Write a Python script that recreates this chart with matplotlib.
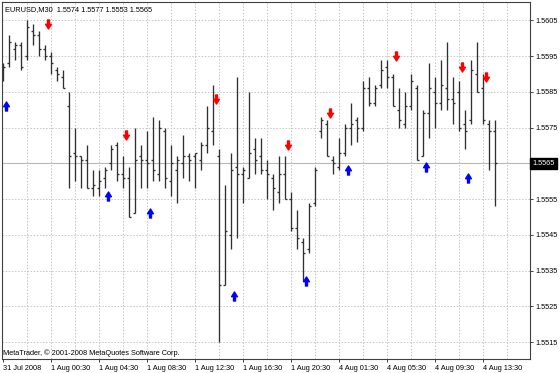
import matplotlib
matplotlib.use("Agg")
import matplotlib.pyplot as plt
from matplotlib.path import Path
from matplotlib.transforms import blended_transform_factory

# EURUSD M30 bars, 31 Jul 2008 20:30 .. 4 Aug 2008 14:30
opens = [1.5591, 1.5593, 1.5597, 1.5598, 1.5595, 1.5602, 1.5601, 1.5597, 1.5595, 1.5591,
         1.5589, 1.5581, 1.5568, 1.5567, 1.5566, 1.5558, 1.5558, 1.5561, 1.5565, 1.5570,
         1.5562, 1.5561, 1.5551, 1.5567, 1.5566, 1.5566, 1.5562, 1.5574, 1.5560, 1.5563,
         1.5565, 1.5567, 1.5567, 1.5566, 1.5570, 1.5574, 1.5567, 1.5531, 1.5545, 1.5564,
         1.5562, 1.5561, 1.5569, 1.5567, 1.5563, 1.5561, 1.5557, 1.5562, 1.5555, 1.5547,
         1.5543, 1.5541, 1.5554, 1.5574, 1.5576, 1.5566, 1.5564, 1.5568, 1.5575, 1.5577,
         1.5575, 1.5586, 1.5582, 1.5587, 1.5592, 1.5589, 1.5580, 1.5576, 1.5581, 1.5586,
         1.5567, 1.5579, 1.5585, 1.5582, 1.5586, 1.5583, 1.5585, 1.5576, 1.5577, 1.5590,
         1.5586, 1.5576, 1.5574]
highs = [1.5593, 1.5601, 1.5599, 1.5599, 1.5605, 1.5604, 1.5602, 1.5598, 1.5596, 1.5592,
         1.5591, 1.5585, 1.5575, 1.5567, 1.5570, 1.5563, 1.5563, 1.5564, 1.5570, 1.5571,
         1.5567, 1.5564, 1.5575, 1.5570, 1.5574, 1.5578, 1.5577, 1.5575, 1.5570, 1.5567,
         1.5573, 1.5568, 1.5568, 1.5571, 1.5581, 1.5587, 1.5569, 1.5559, 1.5568, 1.5589,
         1.5564, 1.5585, 1.5572, 1.5572, 1.5566, 1.5562, 1.5567, 1.5567, 1.5557, 1.5552,
         1.5544, 1.5554, 1.5564, 1.5578, 1.5577, 1.5567, 1.5572, 1.5576, 1.5582, 1.5578,
         1.5588, 1.5589, 1.5587, 1.5594, 1.5594, 1.5590, 1.5586, 1.5585, 1.5590, 1.5587,
         1.5580, 1.5593, 1.5589, 1.5594, 1.5599, 1.5589, 1.5588, 1.5580, 1.5594, 1.5599,
         1.5590, 1.5577, 1.5577]
lows = [1.5588, 1.5592, 1.5594, 1.5591, 1.5594, 1.5598, 1.5595, 1.5594, 1.5590, 1.5588,
        1.5586, 1.5558, 1.5560, 1.5558, 1.5558, 1.5556, 1.5556, 1.5558, 1.5563, 1.5560,
        1.5558, 1.5550, 1.5551, 1.5558, 1.5558, 1.5560, 1.5560, 1.5558, 1.5556, 1.5554,
        1.5561, 1.5560, 1.5558, 1.5563, 1.5568, 1.5570, 1.5515, 1.5531, 1.5541, 1.5544,
        1.5554, 1.5561, 1.5562, 1.5562, 1.5555, 1.5552, 1.5554, 1.5555, 1.5546, 1.5541,
        1.5532, 1.5540, 1.5553, 1.5572, 1.5567, 1.5562, 1.5563, 1.5567, 1.5570, 1.5571,
        1.5574, 1.5581, 1.5581, 1.5586, 1.5586, 1.5581, 1.5575, 1.5575, 1.5580, 1.5566,
        1.5567, 1.5572, 1.5575, 1.5580, 1.5580, 1.5576, 1.5574, 1.5569, 1.5576, 1.5585,
        1.5576, 1.5563, 1.5553]
closes = [1.5592, 1.5599, 1.5598, 1.5592, 1.5603, 1.5601, 1.5597, 1.5595, 1.5593, 1.5590,
          1.5586, 1.5567, 1.5567, 1.5566, 1.5558, 1.5559, 1.5560, 1.5563, 1.5569, 1.5562,
          1.5561, 1.5550, 1.5566, 1.5566, 1.5565, 1.5563, 1.5575, 1.5561, 1.5565, 1.5566,
          1.5567, 1.5566, 1.5568, 1.5570, 1.5575, 1.5583, 1.5531, 1.5546, 1.5563, 1.5562,
          1.5563, 1.5568, 1.5566, 1.5563, 1.5562, 1.5558, 1.5562, 1.5555, 1.5547, 1.5544,
          1.5540, 1.5553, 1.5563, 1.5577, 1.5567, 1.5565, 1.5568, 1.5575, 1.5576, 1.5575,
          1.5586, 1.5582, 1.5586, 1.5591, 1.5589, 1.5581, 1.5577, 1.5581, 1.5588, 1.5566,
          1.5579, 1.5586, 1.5582, 1.5587, 1.5583, 1.5582, 1.5575, 1.5574, 1.5591, 1.5585,
          1.5577, 1.5574, 1.5565]

# signal arrows (bar index, price)
sell_bars = [7, 20, 35, 47, 54, 65, 76, 80]
sell_prices = [1.5604, 1.5573, 1.5583, 1.5570, 1.5579, 1.5595, 1.5592, 1.5589]
buy_bars = [0, 17, 24, 38, 50, 57, 70, 77]
buy_prices = [1.5581, 1.5556, 1.5551, 1.5528, 1.5532, 1.5563, 1.5564, 1.5561]

price_ticks = [1.5515, 1.5525, 1.5535, 1.5545, 1.5555, 1.5565, 1.5575, 1.5585, 1.5595, 1.5605]
time_tick_bars = [0, 8, 16, 24, 32, 40, 48, 56, 64, 72, 80]
time_tick_labels = ["31 Jul 2008", "1 Aug 00:30", "1 Aug 04:30", "1 Aug 08:30",
                    "1 Aug 12:30", "1 Aug 16:30", "1 Aug 20:30", "4 Aug 01:30",
                    "4 Aug 05:30", "4 Aug 09:30", "4 Aug 13:30"]
header = "EURUSD,M30  1.5574 1.5577 1.5553 1.5565"
last_price = 1.5565

plt.rcParams['font.family'] = ['Liberation Sans', 'DejaVu Sans']
FS = 5.3

fig = plt.figure(figsize=(5.6, 3.73), dpi=100)
ax = fig.add_axes([2 / 560, 14 / 373, 528 / 560, 357 / 373])
ax.set_xlim(-0.12, 87.9)
ax.set_ylim(1.55103, 1.56101)

# grid
for p in price_ticks:
    ax.axhline(p, color='#c8c8c8', lw=0.7, dashes=(1.6, 1.6), zorder=0)
for g in range(4, 88, 4):
    ax.axvline(g, color='#c8c8c8', lw=0.7, dashes=(1.6, 1.6), zorder=0)
ax.axhline(last_price, color='#b8b8b8', lw=0.8, zorder=0.5)

# OHLC bars
xs = list(range(len(opens)))
bar_col = '#303030'
ax.vlines(xs, lows, highs, color=bar_col, lw=0.95, zorder=2)
ax.hlines(opens, [x - 0.35 for x in xs], xs, color=bar_col, lw=0.95, zorder=2)
ax.hlines(closes, xs, [x + 0.35 for x in xs], color=bar_col, lw=0.95, zorder=2)

# arrow markers
down_arrow = Path([(-0.22, 1), (0.22, 1), (0.22, 0.05), (0.65, 0.05), (0, -1),
                   (-0.65, 0.05), (-0.22, 0.05), (-0.22, 1)], closed=True)
up_arrow = Path([(x, -y) for x, y in down_arrow.vertices], closed=True)
ax.plot([b + 0.6 for b in sell_bars], sell_prices, ls='none', marker=down_arrow,
        ms=6.5, color='#ff0000', mec='#ff0000', zorder=3)
ax.plot([b + 0.6 for b in buy_bars], buy_prices, ls='none', marker=up_arrow,
        ms=6.5, color='#0000ff', mec='#0000ff', zorder=3)

# axes styling
for s in ax.spines.values():
    s.set_color('#404040')
    s.set_linewidth(0.8)
ax.yaxis.tick_right()
ax.set_yticks(price_ticks)
# the current price box sits over its own tick label
ax.set_yticklabels(["" if p == last_price else f"{p:.4f}" for p in price_ticks])
ax.set_xticks(time_tick_bars)
ax.set_xticklabels(time_tick_labels, ha='left')
ax.tick_params(axis='both', length=2.5, width=0.7, color='#404040',
               labelsize=FS, labelcolor='black', pad=1.5)

# current price label
trans = blended_transform_factory(ax.transAxes, ax.transData)
ax.text(1.004, last_price, f"{last_price:.4f}", transform=trans, fontsize=FS,
        color='white', va='center', ha='left', zorder=5, clip_on=False,
        bbox=dict(boxstyle='square,pad=0.3', fc='black', ec='black'))

ax.text(0.006, 0.99, header, transform=ax.transAxes, fontsize=FS,
        va='top', ha='left')
ax.text(0.002, 0.006, "MetaTrader, \u00a9 2001-2008 MetaQuotes Software Corp.",
        transform=ax.transAxes, fontsize=FS, va='bottom', ha='left')

fig.savefig('out.png', dpi=100, facecolor='white')
